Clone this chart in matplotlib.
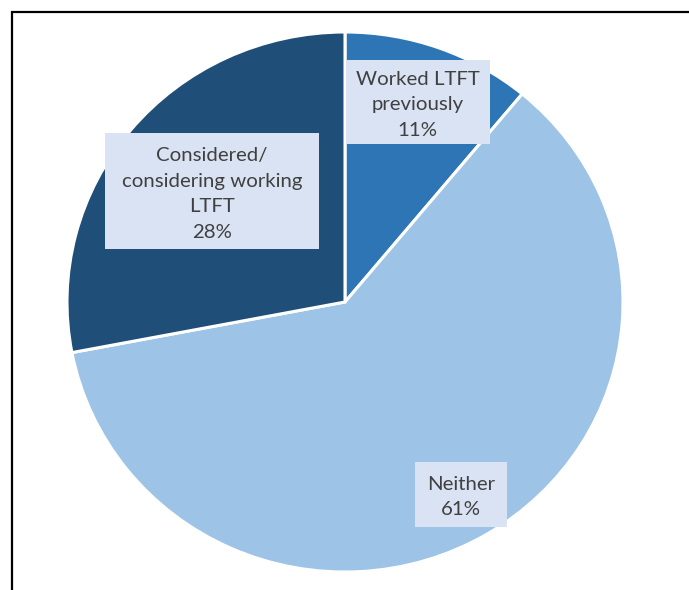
import matplotlib.pyplot as plt
from matplotlib.patches import Rectangle

# share of respondents, clockwise from 12 o'clock
names = ['Worked LTFT\npreviously', 'Neither', 'Considered/\nconsidering working\nLTFT']
shares = [11, 61, 28]
colours = ['#2E75B6', '#9DC3E6', '#1F4E79']

# label box centres (data units) and box sizes (data units)
box_xy = [(0.262, 0.74), (0.418, -0.713), (-0.478, 0.41)]
box_wh = [(0.52, 0.31), (0.33, 0.24), (0.77, 0.43)]

plt.rcParams['font.family'] = ['Lato', 'DejaVu Sans']

fig = plt.figure(figsize=(6.89, 5.90), dpi=100)
W, H = 689, 590
# pie centre at (345, 302) px from top-left, radius 278 px wide / 270 px tall
cx, cy, rx, ry = 345, 302, 278, 270
m = 1.1
ax = fig.add_axes([(cx - rx * m) / W, (H - cy - ry * m) / H, 2 * rx * m / W, 2 * ry * m / H])

ax.pie(shares, colors=colours, startangle=90, counterclock=False,
       wedgeprops=dict(edgecolor='white', linewidth=2.2))
ax.set_aspect('auto')
ax.set_xlim(-m, m)
ax.set_ylim(-m, m)

for name, val, (x, y), (w, h) in zip(names, shares, box_xy, box_wh):
    ax.add_patch(Rectangle((x - w / 2, y - h / 2), w, h, facecolor='#DAE3F3',
                           edgecolor='none', zorder=3))
    ax.text(x, y - 0.01, f'{name}\n{val}%', ha='center', va='center', fontsize=14.7,
            color='#404040', linespacing=1.6, zorder=4)

# outer frame (only its top and left edges fall inside the image)
fig.add_artist(Rectangle((11.5 / W, -0.1), 1.2, 1.1 - 11.5 / H, transform=fig.transFigure,
                         fill=False, edgecolor='black', linewidth=1.6))

fig.savefig('out.png', dpi=100)
